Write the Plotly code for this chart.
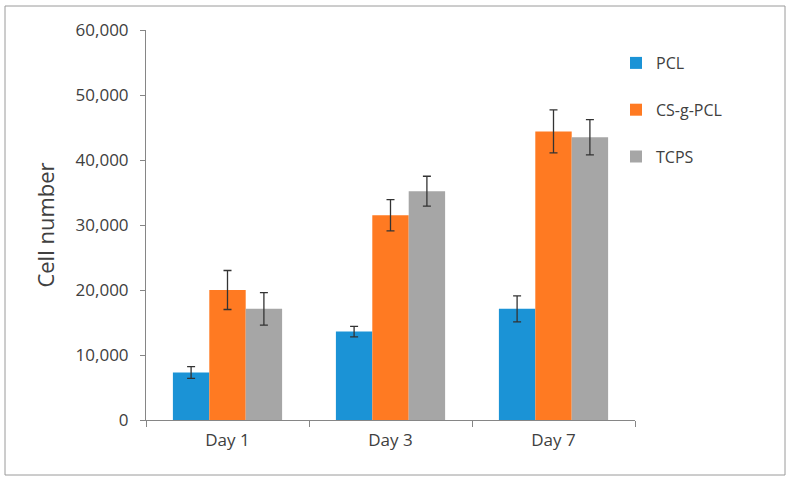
import plotly.graph_objects as go

categories = ["Day 1", "Day 3", "Day 7"]
series_names = ["PCL", "CS-g-PCL", "TCPS"]
pcl_vals = [7300, 13600, 17100]
pcl_err = [900, 800, 2000]
cs_vals = [20000, 31500, 44400]
cs_err = [3000, 2400, 3300]
tcps_vals = [17100, 35200, 43500]
tcps_err = [2500, 2300, 2700]
y_ticks = [0, 10000, 20000, 30000, 40000, 50000, 60000]

colors = ["#1b93d6", "#ff7a22", "#a6a6a6"]
values = [pcl_vals, cs_vals, tcps_vals]
errors = [pcl_err, cs_err, tcps_err]

fig = go.Figure()
for name, vals, errs, col in zip(series_names, values, errors, colors):
    fig.add_trace(go.Bar(
        x=categories, y=vals, name=name, legendgroup=name,
        marker=dict(color=col, line=dict(width=0)),
        error_y=dict(type="data", array=errs, visible=True,
                     color="#333333", thickness=1.3, width=4),
    ))

L, R, T, B = 146, 635, 30, 420
W, H = 792, 481

def px_x(p):
    return (p - L) / (R - L)

def px_y(p):
    return (B - p) / (B - T)

fig.add_shape(type="rect", xref="paper", yref="paper",
              x0=px_x(5), x1=px_x(785), y0=px_y(475), y1=px_y(6),
              line=dict(color="#9a9a9a", width=1), fillcolor="rgba(0,0,0,0)")

fig.update_layout(
    width=W, height=H,
    margin=dict(l=L, r=W - R, t=T, b=H - B),
    paper_bgcolor="white", plot_bgcolor="white",
    barmode="group", bargap=0.33, bargroupgap=0,
    font=dict(family="Open Sans, Segoe UI, sans-serif", color="#404040"),
    legend=dict(x=px_x(616), y=px_y(46), xanchor="left", yanchor="top",
                traceorder="grouped", tracegroupgap=23,
                font=dict(size=16, color="#404040"),
                bgcolor="rgba(0,0,0,0)"),
    xaxis=dict(showline=True, linecolor="#868686", linewidth=1,
               ticks="outside", ticklen=6, tickcolor="#868686",
               tickson="boundaries", showgrid=False, ticklabelstandoff=5,
               tickfont=dict(size=17, color="#404040")),
    yaxis=dict(range=[0, 60000], tickvals=y_ticks, tickformat=",",
               showline=True, linecolor="#868686", linewidth=1,
               ticks="outside", ticklen=5, tickcolor="#868686",
               showgrid=False, zeroline=False, ticklabelstandoff=8,
               tickfont=dict(size=17, color="#404040"),
               title=dict(text="Cell number", font=dict(size=22, color="#404040"),
                          standoff=14)),
)

fig.write_html("out.html", config={"displayModeBar": False},
               post_script="document.body.style.margin='0';")
